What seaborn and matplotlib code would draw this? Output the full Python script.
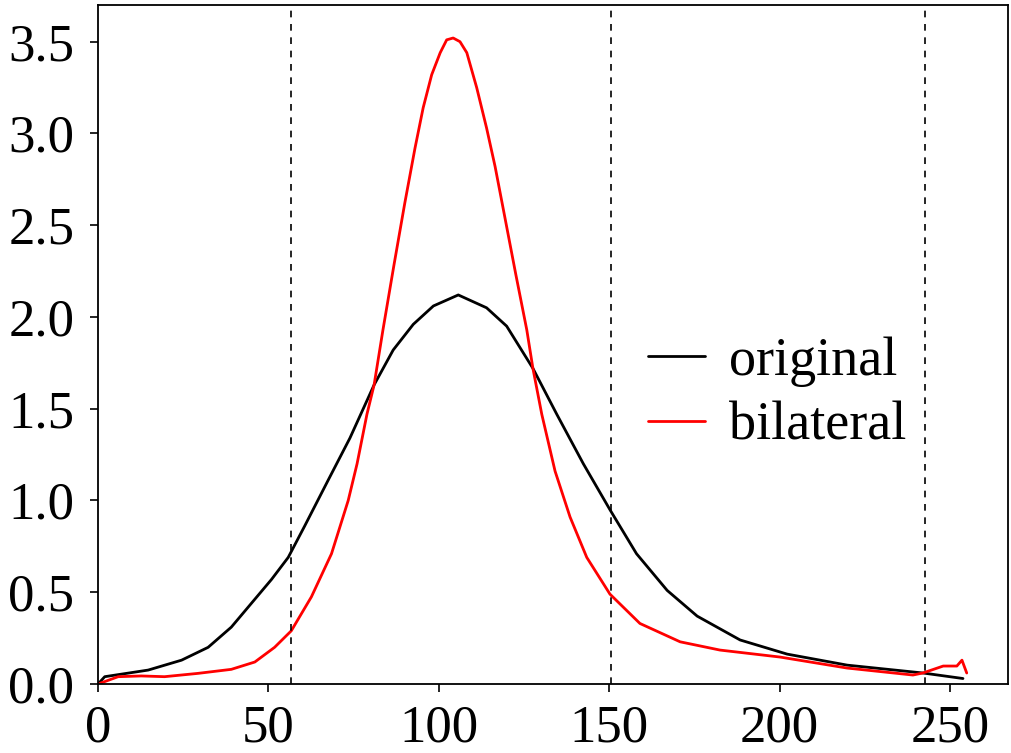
import pandas as pd
import seaborn as sns
import matplotlib.pyplot as plt

# intensity values
original_x = [0, 1.96, 14.7, 24.5, 32.3, 39.1, 45.0, 50.9, 55.8, 60.6, 67.5, 73.9, 81.0, 86.6,
              92.5, 98.4, 105.7, 114.0, 119.9, 127.6, 134.6, 142.4, 150.2, 158.0, 167.0,
              175.8, 188.4, 202.2, 219.8, 242.1, 253.8]
original_y = [0.0, 0.04, 0.076, 0.13, 0.20, 0.31, 0.44, 0.57, 0.69, 0.86, 1.11, 1.34, 1.63, 1.82,
              1.96, 2.06, 2.12, 2.05, 1.95, 1.72, 1.47, 1.20, 0.95, 0.71, 0.51,
              0.37, 0.24, 0.163, 0.103, 0.060, 0.03]

bilateral_x = [0, 5.9, 12.7, 19.5, 29.3, 39.1, 46.0, 51.8, 56.7, 62.6, 68.5, 73.4, 76.0, 78.9,
               81.0, 83.6, 86.8, 90.0, 93.0, 95.4, 97.9, 100.4, 102.3, 104.2, 106.2, 108.2, 111.1,
               114.0, 116.5, 119.4, 122.6, 125.8, 127.6, 130.2, 134.1, 138.5, 143.4, 150.2, 159.0,
               170.8, 182.5, 200.1, 219.8, 239.1, 242, 248, 252, 253.5, 254.9]
bilateral_y = [0.0, 0.04, 0.044, 0.04, 0.058, 0.08, 0.12, 0.20, 0.29, 0.475, 0.71, 1.00, 1.20, 1.47,
               1.63, 1.93, 2.28, 2.62, 2.92, 3.14, 3.32, 3.44, 3.51, 3.52, 3.50, 3.44, 3.25,
               3.03, 2.82, 2.54, 2.23, 1.93, 1.72, 1.47, 1.16, 0.91, 0.69, 0.49, 0.33,
               0.23, 0.185, 0.147, 0.087, 0.049, 0.060, 0.098, 0.098, 0.13, 0.06]

thresholds = [56.6, 150.5, 242.7]

df = pd.concat([
    pd.DataFrame({"x": original_x, "y": original_y, "method": "original"}),
    pd.DataFrame({"x": bilateral_x, "y": bilateral_y, "method": "bilateral"}),
])

sns.set_theme(style="ticks")
plt.rcParams["font.family"] = ["Liberation Serif", "DejaVu Serif"]
plt.rcParams["text.color"] = "black"

fig = plt.figure(figsize=(10.11, 7.53), dpi=100)
ax = fig.add_axes([0.097, 0.0916, 0.9, 0.9018])

sns.lineplot(data=df, x="x", y="y", hue="method", palette=["black", "red"],
             sort=False, linewidth=2.0, ax=ax)

for t in thresholds:
    ax.axvline(t, color="black", linestyle="--", linewidth=1.2, dashes=(4, 4))

ax.set_xlim(0, 267)
ax.set_ylim(0, 3.7)
ax.set_xticks([0, 50, 100, 150, 200, 250])
ax.set_yticks([0.0, 0.5, 1.0, 1.5, 2.0, 2.5, 3.0, 3.5])
ax.set_yticklabels(["0.0", "0.5", "1.0", "1.5", "2.0", "2.5", "3.0", "3.5"])
ax.set_xlabel("")
ax.set_ylabel("")
ax.tick_params(axis="both", direction="out", length=6, width=1.2, labelsize=38, colors="black")
ax.tick_params(axis="y", pad=11)
ax.tick_params(axis="x", pad=9)
for s in ax.spines.values():
    s.set_visible(True)
    s.set_linewidth(1.3)
    s.set_color("black")

leg = ax.legend(frameon=False, fontsize=39, loc="center left", bbox_to_anchor=(0.604, 0.427),
                borderpad=0, borderaxespad=0, handlelength=1.05, handletextpad=0.46,
                labelspacing=0.26)
for txt in leg.get_texts():
    txt.set_color("black")

fig.savefig("out.png", dpi=100)
